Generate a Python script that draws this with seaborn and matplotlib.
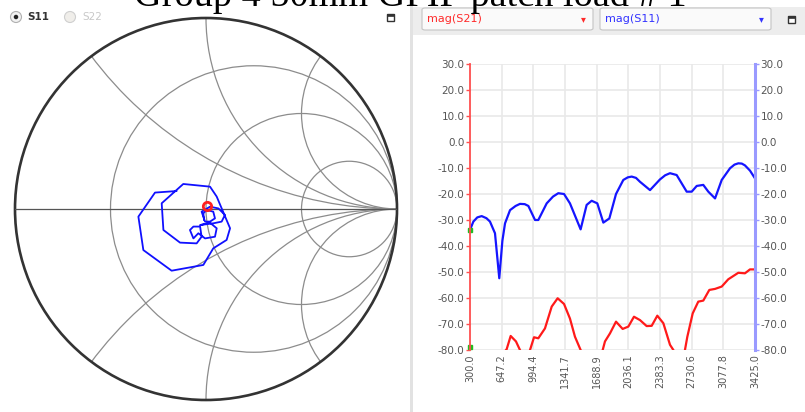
import numpy as np
import seaborn as sns
import matplotlib.pyplot as plt
from matplotlib.patches import Circle, Ellipse, Rectangle, FancyBboxPatch

sns.set_theme(style="white")
plt.rcParams['font.family'] = ['DejaVu Sans']

# mag(S11) trace, frequency in MHz and dB
freq_s11 = [300, 337, 380, 428, 480, 519, 574, 621, 655, 684, 739, 800, 848, 900, 940,
            1013, 1049, 1141, 1210, 1268, 1331, 1396, 1513, 1579, 1634, 1696, 1762, 1828,
            1901, 1981, 2030, 2073, 2120, 2164, 2274, 2383, 2440, 2493, 2566, 2676, 2731,
            2786, 2858, 2913, 2987, 3060, 3151, 3200, 3242, 3280, 3315, 3370, 3425]
s11_db = [-33.8, -30.6, -29.0, -28.5, -29.3, -30.6, -35.1, -52.4, -38.0, -31.3, -26.2, -24.6,
          -23.8, -23.9, -24.6, -30.0, -30.0, -23.6, -21.0, -19.7, -20.0, -23.6, -33.6, -24.2,
          -22.6, -23.6, -31.0, -29.4, -20.0, -14.6, -13.6, -13.3, -13.8, -15.3, -18.5, -14.4,
          -12.8, -12.0, -12.7, -19.1, -19.1, -16.9, -16.5, -19.1, -21.7, -14.6, -10.1, -8.7,
          -8.2, -8.3, -9.0, -11.0, -14.0]

# mag(S21) trace
freq_s21 = [300, 500, 702, 746, 804, 848, 900, 958, 1002, 1049, 1122, 1196, 1261, 1331, 1396,
            1451, 1513, 1600, 1700, 1755, 1780, 1835, 1901, 1974, 2036, 2098, 2164, 2237,
            2292, 2354, 2420, 2493, 2530, 2600, 2657, 2683, 2742, 2803, 2858, 2924, 2987,
            3060, 3132, 3242, 3315, 3370, 3425]
s21_db = [-80.5, -88.0, -79.7, -74.6, -76.7, -80.0, -84.0, -80.0, -75.1, -75.5, -71.7, -63.3,
          -60.1, -62.3, -67.9, -74.9, -80.0, -86.0, -84.0, -80.0, -76.7, -73.6, -69.1, -71.9,
          -71.0, -67.2, -68.5, -70.8, -70.7, -66.8, -69.7, -78.0, -80.0, -85.0, -80.0, -74.9,
          -65.9, -61.4, -61.0, -56.9, -56.5, -55.6, -52.8, -50.3, -50.5, -49.0, -49.0]

# S11 on the Smith chart (reflection coefficient, real / imag)
gamma_re = [-0.010, -0.014, 0.003, 0.038, 0.047, 0.021, -0.005, -0.023, 0.021, 0.065, 0.099,
            0.082, 0.038, -0.031, 0.021, 0.056, 0.047, -0.005, -0.040, -0.066, -0.084, -0.066,
            -0.031, -0.023, -0.049, -0.136, -0.223, -0.232, -0.119, 0.021, 0.056, 0.126, 0.108,
            0.038, -0.014, -0.180, -0.328, -0.354, -0.267, -0.154]
gamma_im = [-0.058, -0.023, -0.005, -0.014, -0.049, -0.066, -0.066, -0.014, 0.012, 0.003, -0.031,
            -0.066, -0.075, -0.084, -0.072, -0.101, -0.145, -0.154, -0.127, -0.154, -0.110, -0.092,
            -0.092, -0.145, -0.180, -0.176, -0.110, 0.030, 0.131, 0.117, 0.065, -0.101, -0.162,
            -0.206, -0.293, -0.323, -0.215, -0.040, 0.086, 0.094]
marker_re = [0.007]
marker_im = [0.016]

tick_freqs = [300.0, 647.2, 994.4, 1341.7, 1688.9, 2036.1, 2383.3, 2730.6, 3077.8, 3425.0]
db_ticks = [-80, -70, -60, -50, -40, -30, -20, -10, 0, 10, 20, 30]
r_circles = [1 / 3, 1, 3]
x_arcs = [0.5, 1, 2]

W, H = 805, 412
fig = plt.figure(figsize=(W / 100, H / 100), dpi=100)


def px_axes(left, top, width, height):
    return fig.add_axes([left / W, 1 - (top + height) / H, width / W, height / H])


def fx(x):
    return x / W


def fy(y):
    return 1 - y / H


# ---- panel chrome ----
fig.add_artist(Rectangle((fx(410), 0), fx(3), 1, transform=fig.transFigure,
                         color='#e2e2e2', lw=0))
fig.add_artist(Rectangle((fx(413), fy(35)), fx(392), 28 / H, transform=fig.transFigure,
                         color='#ededed', lw=0))
for x0, label, col in [(422, 'mag(S21)', '#ff2a2a'), (600, 'mag(S11)', '#3333ff')]:
    fig.add_artist(FancyBboxPatch((fx(x0), fy(30)), fx(171), 22 / H, transform=fig.transFigure,
                                  boxstyle='round,pad=0,rounding_size=0.004',
                                  fc='#fafafa', ec='#c4c4c4', lw=0.8))
    fig.text(fx(x0 + 5), fy(19), label, color=col, fontsize=8, va='center', ha='left')
    fig.text(fx(x0 + 161), fy(19), '\u25be', color=col, fontsize=7, va='center', ha='center')
for xs, ys in [(387, 14), (788, 16)]:
    fig.add_artist(Rectangle((fx(xs), fy(ys + 7)), fx(7), 7 / H, transform=fig.transFigure,
                             fc='white', ec='#333333', lw=1.0))
    fig.add_artist(Rectangle((fx(xs), fy(ys + 2)), fx(7), 2 / H, transform=fig.transFigure,
                             fc='#333333', ec='#333333', lw=0.5))

# radio buttons
fig.add_artist(Ellipse((fx(16), fy(17)), 11 / W, 11 / H, transform=fig.transFigure,
                       fc='#f2f2f2', ec='#b0b0b0', lw=0.8))
fig.add_artist(Ellipse((fx(16), fy(17)), 4.5 / W, 4.5 / H, transform=fig.transFigure,
                       fc='#222222', ec='none'))
fig.text(fx(27), fy(17), 'S11', fontsize=7.5, color='#333333', va='center', weight='bold')
fig.add_artist(Ellipse((fx(70), fy(17)), 11 / W, 11 / H, transform=fig.transFigure,
                       fc='#f0eeea', ec='#cfcfcf', lw=0.8))
fig.text(fx(82), fy(17), 'S22', fontsize=7.5, color='#c8c8c8', va='center')

# title (partly above the top edge, as in the reference)
fig.text(fx(410), fy(6.5), 'Group 4 50mm GPIF patch load # 1', family='Liberation Serif',
         fontsize=27.5, ha='center', va='baseline', color='black')

# ---- Smith chart ----
ax_s = px_axes(15, 18, 382, 382)
ax_s.set_xlim(-1, 1)
ax_s.set_ylim(-1, 1)
ax_s.axis('off')
unit = Circle((0, 0), 1, transform=ax_s.transData, fc='none', ec='none')
ax_s.add_patch(unit)
grid_kw = dict(fc='none', ec='#8c8c8c', lw=0.9)
for r in r_circles:
    ax_s.add_patch(Circle((r / (1 + r), 0), 1 / (1 + r), **grid_kw))
for xv in x_arcs:
    for sgn in (1, -1):
        c = Circle((1, sgn / xv), 1 / xv, **grid_kw)
        ax_s.add_patch(c)
        c.set_clip_path(unit)
ax_s.plot([-1, 1], [0, 0], color='#555555', lw=0.9)
ax_s.add_patch(Circle((0, 0), 1, fc='none', ec='#333333', lw=1.9, clip_on=False))

smith_df = {'re': gamma_re, 'im': gamma_im}
sns.lineplot(data=smith_df, x='re', y='im', sort=False, estimator=None, color='#1010ff',
             lw=1.3, ax=ax_s)
ax_s.plot(marker_re, marker_im, 'o', mfc='none', mec='#ff2020', mew=2, ms=6)
ax_s.set_xlim(-1, 1)
ax_s.set_ylim(-1, 1)

# ---- magnitude plot ----
ax_m = px_axes(470, 64, 285, 286)
sns.lineplot(x=freq_s21, y=s21_db, sort=False, estimator=None, color='#ff1a1a', lw=1.6, ax=ax_m)
sns.lineplot(x=freq_s11, y=s11_db, sort=False, estimator=None, color='#1515ff', lw=1.6, ax=ax_m)
ax_m.plot([freq_s11[0]], [s11_db[0]], 's', color='#22bb22', ms=2.5, clip_on=False)
ax_m.plot([freq_s21[0]], [-79], 's', color='#22bb22', ms=2.5, clip_on=False)
ax_m.set_xlim(300, 3425)
ax_m.set_ylim(-80, 30)
ax_m.set_xticks(tick_freqs)
ax_m.set_xticklabels(['%.1f' % t for t in tick_freqs], rotation=90)
ax_m.set_yticks(db_ticks)
ax_m.set_yticklabels(['%.1f' % t for t in db_ticks])
ax_m.grid(True, color='#e9e9e9', lw=1.2)
ax_m.set_axisbelow(True)
for s in ['top', 'bottom', 'right']:
    ax_m.spines[s].set_visible(False)
ax_m.spines['left'].set_color('#ff5050')
ax_m.spines['left'].set_linewidth(1.3)
ax_m.tick_params(axis='x', length=0, pad=3, labelsize=7, labelcolor='#555555')
ax_m.tick_params(axis='y', length=3, width=1, color='#ff5050', pad=1, labelsize=7.5,
                 labelcolor='#555555', left=True)
ax_m.set_xlabel('')
ax_m.set_ylabel('')

ax_r = ax_m.twinx()
ax_r.set_ylim(-80, 30)
ax_r.set_yticks(db_ticks)
ax_r.set_yticklabels(['%.1f' % t for t in db_ticks])
for s in ['top', 'bottom', 'left']:
    ax_r.spines[s].set_visible(False)
ax_r.spines['right'].set_color('#9a9aff')
ax_r.spines['right'].set_linewidth(2.2)
ax_r.tick_params(axis='y', length=3, width=1, color='#9a9aff', pad=1, labelsize=7.5,
                 labelcolor='#555555', right=True)
ax_r.grid(False)

fig.savefig('out.png', dpi=100)
